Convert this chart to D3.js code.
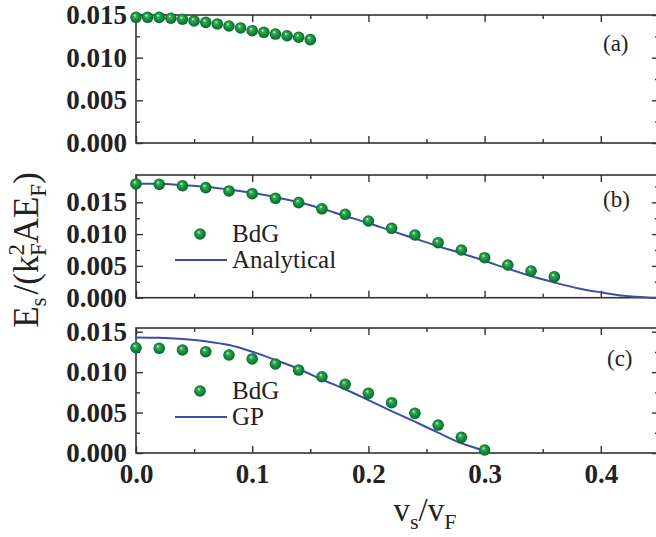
<!DOCTYPE html>
<html>
<head>
<meta charset="utf-8">
<script src="https://cdn.jsdelivr.net/npm/d3@7"></script>
<style>
  body { margin: 0; background: #fff; }
  svg { display: block; }
  svg text { font-family: "Liberation Serif", "Times New Roman", Times, "DejaVu Serif", serif; }
  .tick text { font-weight: bold; fill: #222; }
</style>
</head>
<body>
<script>
// panel (a): BdG only
const aX = [0, 0.01, 0.02, 0.03, 0.04, 0.05, 0.06, 0.07, 0.08, 0.09, 0.10, 0.11, 0.12, 0.13, 0.14, 0.15];
const aBdG = [0.01473, 0.01473, 0.01472, 0.01462, 0.01450, 0.01430, 0.01414, 0.01395, 0.01371, 0.01348, 0.01316, 0.01297, 0.01277, 0.01257, 0.01239, 0.01211];

// panel (b): BdG vs analytical
const bX = [0, 0.02, 0.04, 0.06, 0.08, 0.10, 0.12, 0.14, 0.16, 0.18, 0.20, 0.22, 0.24, 0.26, 0.28, 0.30, 0.32, 0.34, 0.36];
const bBdG = [0.01788, 0.01783, 0.01761, 0.01730, 0.01678, 0.01635, 0.01563, 0.01494, 0.01398, 0.01311, 0.01206, 0.01091, 0.00986, 0.00865, 0.00750, 0.00629, 0.00514, 0.00420, 0.00330];
const bLineX = [0, 0.02, 0.04, 0.06, 0.08, 0.10, 0.12, 0.14, 0.16, 0.18, 0.20, 0.22, 0.24, 0.26, 0.28, 0.30, 0.32, 0.34, 0.36, 0.38, 0.40, 0.42, 0.44, 0.45];
const bAnalytical = [0.0179, 0.0179, 0.0177, 0.01745, 0.0170, 0.0165, 0.0158, 0.0150, 0.0140, 0.01285, 0.01174, 0.0105, 0.0093, 0.0081, 0.0070, 0.0058, 0.00456, 0.0034, 0.0024, 0.0015, 0.00085, 0.0003, 0.00005, 0];

// panel (c): BdG vs GP
const cX = [0, 0.02, 0.04, 0.06, 0.08, 0.10, 0.12, 0.14, 0.16, 0.18, 0.20, 0.22, 0.24, 0.26, 0.28, 0.30];
const cBdG = [0.01302, 0.01295, 0.01274, 0.01253, 0.01212, 0.01163, 0.01101, 0.01026, 0.00943, 0.00850, 0.00738, 0.00622, 0.00491, 0.00346, 0.00194, 0.00037];
const cGP = [0.0143, 0.01426, 0.0141, 0.01381, 0.01335, 0.01253, 0.0115, 0.01039, 0.00909, 0.00788, 0.00655, 0.00519, 0.00387, 0.00251, 0.0012, 0.0003];

const xTicks = [0, 0.1, 0.2, 0.3, 0.4];
const xTickLabels = ['0.0', '0.1', '0.2', '0.3', '0.4'];
const xMinor = [0.05, 0.15, 0.25, 0.35, 0.45];
const yTicks = [0, 0.005, 0.010, 0.015];
const yTickLabels = ['0.000', '0.005', '0.010', '0.015'];
const yMinor = [0.0025, 0.0075, 0.0125, 0.0175];

const width = 656, height = 537;
const left = 136;
const axisColor = '#333';
const lineColor = '#3a4ea6';

const svg = d3.select('body').append('svg')
  .attr('width', width)
  .attr('height', height);

const grad = svg.append('defs').append('radialGradient')
  .attr('id', 'ball')
  .attr('cx', '0.5').attr('cy', '0.5').attr('r', '0.55')
  .attr('fx', '0.38').attr('fy', '0.32');
grad.append('stop').attr('offset', '0').attr('stop-color', '#e6f5e8');
grad.append('stop').attr('offset', '0.25').attr('stop-color', '#3aa957');
grad.append('stop').attr('offset', '0.7').attr('stop-color', '#0a8234');
grad.append('stop').attr('offset', '1').attr('stop-color', '#055a27');

const x = d3.scaleLinear().domain([0, 0.45]).range([left, left + 0.45 * 1162]);

const panels = [
  { top: 15, bottom: 143, yMax: 0.015, dotsX: aX, dots: aBdG, tag: '(a)', tagX: 603, tagY: 51 },
  { top: 175, bottom: 297.7, yMax: 0.01929, dotsX: bX, dots: bBdG, lineX: bLineX, line: bAnalytical,
    tag: '(b)', tagX: 603, tagY: 207,
    legend: { dotY: 234, lineY: 260, names: ['BdG', 'Analytical'] } },
  { top: 328, bottom: 453, yMax: 0.01546, dotsX: cX, dots: cBdG, lineX: cX, line: cGP,
    tag: '(c)', tagX: 607, tagY: 366, xLabels: true,
    legend: { dotY: 391, lineY: 417, names: ['BdG', 'GP'] } }
];

panels.forEach(p => {
  const y = d3.scaleLinear().domain([0, p.yMax]).range([p.bottom, p.top]);
  const g = svg.append('g');

  // frame
  g.append('rect')
    .attr('x', x(0)).attr('y', p.top)
    .attr('width', x(0.45) - x(0)).attr('height', p.bottom - p.top)
    .attr('fill', 'none').attr('stroke', axisColor).attr('stroke-width', 1.6);

  const style = sel => {
    sel.attr('font-family', null);
    sel.select('.domain').remove();
    sel.selectAll('line').attr('stroke', axisColor).attr('stroke-width', 1.4);
    sel.selectAll('text').style('font-size', '27px');
  };

  g.append('g').attr('transform', `translate(0,${p.bottom})`)
    .call(d3.axisBottom(x).tickValues(xTicks).tickSizeInner(-7).tickSizeOuter(0).tickPadding(11)
      .tickFormat((d, i) => p.xLabels ? xTickLabels[i] : ''))
    .call(style);
  g.append('g').attr('transform', `translate(0,${p.bottom})`)
    .call(d3.axisBottom(x).tickValues(xMinor).tickSize(-4).tickFormat(''))
    .call(style);
  g.append('g').attr('transform', `translate(0,${p.top})`)
    .call(d3.axisTop(x).tickValues(xTicks).tickSize(-7).tickFormat(''))
    .call(style);
  g.append('g').attr('transform', `translate(0,${p.top})`)
    .call(d3.axisTop(x).tickValues(xMinor).tickSize(-4).tickFormat(''))
    .call(style);

  const yt = yTicks.filter(v => v <= p.yMax + 1e-9);
  const ym = yMinor.filter(v => v <= p.yMax);
  g.append('g').attr('transform', `translate(${x(0)},0)`)
    .call(d3.axisLeft(y).tickValues(yt).tickSizeInner(-7).tickSizeOuter(0).tickPadding(9)
      .tickFormat(d => yTickLabels[yTicks.indexOf(d)]))
    .call(style);
  g.append('g').attr('transform', `translate(${x(0)},0)`)
    .call(d3.axisLeft(y).tickValues(ym).tickSize(-4).tickFormat(''))
    .call(style);
  g.append('g').attr('transform', `translate(${x(0.45)},0)`)
    .call(d3.axisRight(y).tickValues(yt).tickSize(-7).tickFormat(''))
    .call(style);
  g.append('g').attr('transform', `translate(${x(0.45)},0)`)
    .call(d3.axisRight(y).tickValues(ym).tickSize(-4).tickFormat(''))
    .call(style);

  if (p.line) {
    g.append('path')
      .datum(p.lineX.map((v, i) => [v, p.line[i]]))
      .attr('fill', 'none')
      .attr('stroke', lineColor)
      .attr('stroke-width', 2)
      .attr('d', d3.line().x(d => x(d[0])).y(d => y(d[1])).curve(d3.curveMonotoneX));
  }

  g.selectAll('circle.dot')
    .data(p.dotsX.map((v, i) => [v, p.dots[i]]))
    .enter().append('circle')
    .attr('class', 'dot')
    .attr('cx', d => x(d[0]))
    .attr('cy', d => y(d[1]))
    .attr('r', 5.8)
    .attr('fill', 'url(#ball)');

  g.append('text')
    .attr('x', p.tagX).attr('y', p.tagY)
    .style('font-size', '23px').attr('fill', '#222')
    .text(p.tag);

  if (p.legend) {
    const L = p.legend;
    g.append('circle').attr('cx', 200).attr('cy', L.dotY).attr('r', 5.8).attr('fill', 'url(#ball)');
    g.append('line').attr('x1', 175).attr('x2', 227).attr('y1', L.lineY).attr('y2', L.lineY)
      .attr('stroke', lineColor).attr('stroke-width', 2);
    g.append('text').attr('x', 232).attr('y', L.dotY + 8)
      .style('font-size', '25px').attr('fill', '#222').text(L.names[0]);
    g.append('text').attr('x', 232).attr('y', L.lineY + 8)
      .style('font-size', '25px').attr('fill', '#222').text(L.names[1]);
  }
});

// axis titles
const xt = svg.append('text')
  .attr('x', 425).attr('y', 521)
  .attr('text-anchor', 'middle')
  .style('font-size', '33px').attr('fill', '#222');
xt.append('tspan').text('v');
xt.append('tspan').attr('dy', 8).style('font-size', '22px').text('s');
xt.append('tspan').attr('dy', -8).text('/v');
xt.append('tspan').attr('dy', 8).style('font-size', '22px').text('F');

const yl = svg.append('text')
  .attr('transform', 'translate(38,250) rotate(-90)')
  .attr('text-anchor', 'middle')
  .style('font-size', '35px').attr('fill', '#222');
yl.append('tspan').text('E');
yl.append('tspan').attr('dy', 8).style('font-size', '23px').text('s');
yl.append('tspan').attr('dx', 3).attr('dy', -8).text('/(k');
yl.append('tspan').attr('dy', -14).style('font-size', '23px').text('2');
yl.append('tspan').attr('dx', -12).attr('dy', 22).style('font-size', '23px').text('F');
yl.append('tspan').attr('dy', -8).text('AE');
yl.append('tspan').attr('dy', 8).style('font-size', '23px').text('F');
yl.append('tspan').attr('dy', -8).text(')');
</script>
</body>
</html>
